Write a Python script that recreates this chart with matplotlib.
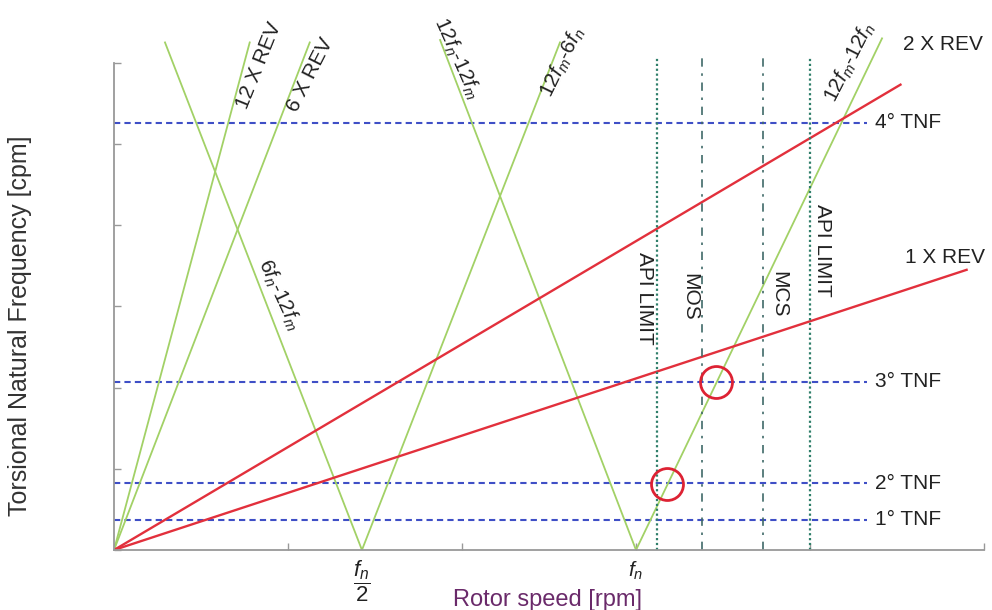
import matplotlib.pyplot as plt

plt.rcParams['font.family'] = ['Liberation Sans', 'DejaVu Sans']
plt.rcParams['mathtext.fontset'] = 'custom'
plt.rcParams['mathtext.rm'] = 'Liberation Sans'
plt.rcParams['mathtext.it'] = 'Liberation Sans:italic'

# ------------------ DATA -----------------------------------------
# torsional natural frequencies (horizontal lines)
tnf_names = ['1° TNF', '2° TNF', '3° TNF', '4° TNF']
tnf_values = [0.37, 0.82, 2.07, 5.26]
tnf_end = 4.33

# running speed lines (red), from the origin
rev_names = ['1 X REV', '2 X REV']
rev_end_x = [4.90, 4.52]
rev_end_y = [3.45, 5.73]

# excitation lines (green)
rev12_x = [0.0, 0.78]
rev12_y = [0.0, 6.25]
rev6_x = [0.0, 1.125]
rev6_y = [0.0, 6.25]
half_v_x = [0.293, 1.425, 2.563]
half_v_y = [6.25, 0.0, 6.25]
full_v_x = [1.874, 3.0, 4.414]
full_v_y = [6.28, 0.0, 6.30]

# speed limits (vertical lines)
limit_names = ['API LIMIT', 'MOS', 'MCS', 'API LIMIT']
limit_x = [3.12, 3.38, 3.73, 4.0]
limit_top = 6.07

# interference points
hit_x = [3.18, 3.46]
hit_y = [0.81, 2.07]

# -----------------------------------------------------------------

green = '#a2d166'
red = '#e2303c'
blue = '#3f4fc6'

fig = plt.figure(figsize=(9.92, 6.10), dpi=100)
ax = fig.add_axes([114/992, 60/610, 870/992, 536/610])
ax.set_xlim(0, 5.0)
ax.set_ylim(0, 6.6)

for y in tnf_values:
    ax.plot([0, tnf_end], [y, y], color=blue, lw=1.5, dashes=(3, 2))

ax.plot(rev12_x, rev12_y, color=green, lw=1.3)
ax.plot(rev6_x, rev6_y, color=green, lw=1.3)
ax.plot(half_v_x, half_v_y, color=green, lw=1.3)
ax.plot(full_v_x, full_v_y, color=green, lw=1.3)

for xe, ye in zip(rev_end_x, rev_end_y):
    ax.plot([0, xe], [0, ye], color=red, lw=1.7)

for name, x in zip(limit_names, limit_x):
    if name == 'API LIMIT':
        ax.plot([x, x], [0, limit_top], color='#2f7f6a', lw=1.6, dashes=(1, 1.2))
    else:
        ax.plot([x, x], [0, limit_top], color='#3f6a68', lw=1.2, dashes=(5, 4, 1.5, 4))

ax.plot(hit_x, hit_y, 'o', ms=23, mfc='none', mec='#dd2233', mew=2)

# labels
txt = dict(fontsize=15, color='#222222', ha='center', va='center', clip_on=False)
ax.text(0.833, 5.97, '12 X REV', rotation=68, **txt)
ax.text(1.126, 5.85, '6 X REV', rotation=63, **txt)
ax.text(1.971, 6.05, r'12$f_n$-12$f_m$', rotation=-66, **txt)
ax.text(2.575, 6.01, r'12$f_m$-6$f_n$', rotation=64, **txt)
ax.text(4.23, 6.01, r'12$f_m$-12$f_n$', rotation=63, **txt)
ax.text(0.948, 3.14, r'6$f_n$-12$f_m$', rotation=-65, **txt)

lab_pos = [(3.046, 3.10), (3.31, 3.12), (3.82, 3.15), (4.07, 3.69)]
for name, (x, y) in zip(limit_names, lab_pos):
    ax.text(x, y, name, rotation=270, **txt)

for name, y in zip(tnf_names, tnf_values):
    ax.text(4.374, y, name, fontsize=15, color='#222222', ha='left', va='center')

ax.text(4.534, 6.22, rev_names[1], fontsize=15, color='#222222', ha='left', va='center')
ax.text(4.546, 3.60, rev_names[0], fontsize=15, color='#222222', ha='left', va='center')

ax.text(1.425, -0.38, r'$\dfrac{f_n}{2}$', fontsize=16, color='#222222', ha='center', va='center')
ax.text(3.0, -0.26, r'$f_n$', fontsize=15, color='#222222', ha='center', va='center')
ax.text(2.494, -0.62, 'Rotor speed [rpm]', fontsize=17, color='#6a2a6a', ha='center', va='center')
ax.text(-0.54, 2.76, 'Torsional Natural Frequency [cpm]', fontsize=18, color='#333333',
        rotation=90, ha='center', va='center')

for side in ['top', 'right']:
    ax.spines[side].set_visible(False)
ax.spines['left'].set_bounds(0, 6)
ax.spines['bottom'].set_bounds(0, 5)
for side in ['left', 'bottom']:
    ax.spines[side].set_color('#999999')
    ax.spines[side].set_linewidth(1.3)
ax.set_xticks(range(6))
ax.set_yticks(range(7))
ax.set_xticklabels([])
ax.set_yticklabels([])
ax.tick_params(direction='in', length=5, color='#999999', width=1)

plt.savefig('out.png', dpi=100)
